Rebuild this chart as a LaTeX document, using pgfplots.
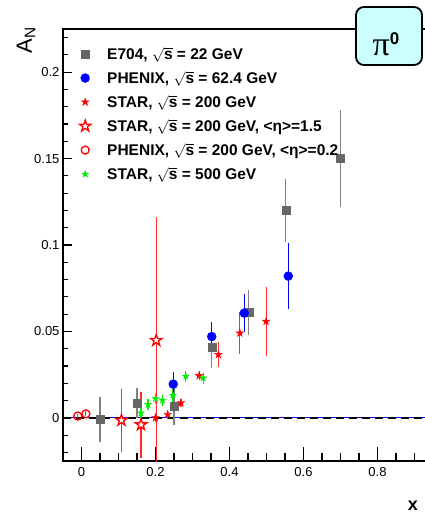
\documentclass[border=0pt]{standalone}
\usepackage{fontspec}
\setmainfont{Liberation Sans}
\newfontfamily\symserif{Liberation Serif}
\usepackage{amsmath}
\usepackage{pgfplots}
\pgfplotsset{compat=1.18}
\definecolor{egrey}{HTML}{666666}
\definecolor{ebar}{HTML}{808080}
\definecolor{pblue}{HTML}{0000FF}
\definecolor{sred}{HTML}{FF0000}
\definecolor{sredbar}{HTML}{FF2A2A}
\definecolor{sgreen}{HTML}{00EE00}
\definecolor{boxcyan}{HTML}{CCFFFF}

\pgfdeclareplotmark{pent}{%
  \pgfpathmoveto{\pgfpointpolar{90}{\pgfplotmarksize}}%
  \pgfpathlineto{\pgfpointpolar{126}{0.382\pgfplotmarksize}}%
  \pgfpathlineto{\pgfpointpolar{162}{\pgfplotmarksize}}%
  \pgfpathlineto{\pgfpointpolar{198}{0.382\pgfplotmarksize}}%
  \pgfpathlineto{\pgfpointpolar{234}{\pgfplotmarksize}}%
  \pgfpathlineto{\pgfpointpolar{270}{0.382\pgfplotmarksize}}%
  \pgfpathlineto{\pgfpointpolar{306}{\pgfplotmarksize}}%
  \pgfpathlineto{\pgfpointpolar{342}{0.382\pgfplotmarksize}}%
  \pgfpathlineto{\pgfpointpolar{18}{\pgfplotmarksize}}%
  \pgfpathlineto{\pgfpointpolar{54}{0.382\pgfplotmarksize}}%
  \pgfpathclose
  \pgfusepathqfillstroke
}

\pgfplotstableread{
x y ey
0.050 -0.001 0.012
0.150 0.0087 0.0075
0.250 0.0070 0.010
0.352 0.0410 0.011
0.452 0.0610 0.012
0.552 0.1200 0.017
0.700 0.1500 0.027
}\eseven

\pgfplotstableread{
x y ey
0.248 0.0195 0.006
0.352 0.0470 0.007
0.440 0.0606 0.010
0.559 0.0820 0.018
}\phenixsixty

\pgfplotstableread{
x y ey
0.200 0.0000 0.0015
0.233 0.0019 0.0012
0.269 0.0087 0.0012
0.318 0.0244 0.0015
0.370 0.0366 0.006
0.428 0.0490 0.011
0.499 0.0558 0.019
}\startwo

\pgfplotstableread{
x y ey
0.108 -0.0014 0.017
0.161 -0.0040 0.018
0.202 0.0448 0.070
}\stareta

\pgfplotstableread{
x y ey
-0.010 0.0010 0.0008
0.012 0.0023 0.0008
}\phenixtwo

\pgfplotstableread{
x y ey
0.161 0.0028 0.002
0.180 0.0077 0.002
0.200 0.0110 0.002
0.219 0.0102 0.002
0.247 0.0130 0.0025
0.282 0.0240 0.002
0.329 0.0230 0.002
}\starfive

\pgfplotstableread{
x y
-0.05 0
0.942 0
}\zeroline

\begin{document}
\begin{tikzpicture}
\path[use as bounding box] (0pt,0pt) rectangle (424pt,523pt);
\begin{axis}[
  name=ax,
  at={(63pt,62pt)}, anchor=south west,
  scale only axis, width=367pt, height=432pt,
  xmin=-0.05, xmax=0.942, ymin=-0.025, ymax=0.225,
  xtick={0,0.2,0.4,0.6,0.8}, xticklabels={0,0.2,0.4,0.6,0.8},
  ytick={0,0.05,0.1,0.15,0.2}, yticklabels={0,0.05,0.1,0.15,0.2},
  tick pos=left,
  tick align=inside,
  major tick length=0pt, minor tick length=0pt,
  axis line style={line width=1.5pt},
  tick label style={font=\fontsize{13}{13}\selectfont},
  xticklabel style={yshift=-3pt},
  legend style={at={(rel axis cs:0.03,0.968)}, anchor=north west, draw=none, fill=none,
    font=\fontsize{15.5}{16}\selectfont\bfseries, row sep=6pt},
  legend cell align=left,
  legend image code/.code={\path[draw=none,fill=none] (0pt,-2pt) rectangle (28pt,2pt); \draw[#1] plot coordinates {(8pt,0pt)};},
]
\addplot[pblue, line width=1.2pt, forget plot] table[x=x,y=y] {\zeroline};
\addplot[black, line width=2pt, dash pattern=on 8pt off 5pt, forget plot] table[x=x,y=y] {\zeroline};

\addplot[only marks, mark=square*, mark size=4pt, color=egrey,
  error bars/.cd, y dir=both, y explicit,
  error bar style={line width=1.2pt, ebar},
  error mark options={mark size=2pt, line width=1.2pt, ebar}]
  table[x=x, y=y, y error=ey] {\eseven};
\addlegendentry{E704, $\sqrt{\text{s}}$ = 22 GeV}

\addplot[only marks, mark=*, mark size=4.5pt, color=pblue,
  error bars/.cd, y dir=both, y explicit,
  error bar style={line width=1.2pt, pblue},
  error mark options={mark size=2pt, line width=1.2pt, pblue}]
  table[x=x, y=y, y error=ey] {\phenixsixty};
\addlegendentry{PHENIX, $\sqrt{\text{s}}$ = 62.4 GeV}

\addplot[only marks, mark=pent, mark size=4pt, color=sred, mark options={line width=0.4pt},
  error bars/.cd, y dir=both, y explicit,
  error bar style={line width=1.2pt, sredbar},
  error mark options={mark size=2pt, line width=1.2pt, sredbar}]
  table[x=x, y=y, y error=ey] {\startwo};
\addlegendentry{STAR, $\sqrt{\text{s}}$ = 200 GeV}

\addplot[only marks, mark=pent, mark size=6pt, color=sred,
  mark options={fill=white, line width=1.3pt},
  error bars/.cd, y dir=both, y explicit,
  error bar style={line width=1.2pt, sredbar},
  error mark options={mark size=2pt, line width=1.2pt, sredbar}]
  table[x=x, y=y, y error=ey] {\stareta};
\addlegendentry{STAR, $\sqrt{\text{s}}$ = 200 GeV, <η>=1.5}

\addplot[only marks, mark=o, mark size=4pt, color=sred, mark options={line width=1.3pt},
  error bars/.cd, y dir=both, y explicit,
  error bar style={line width=1pt, sredbar},
  error mark options={mark size=1pt, line width=1pt, sredbar}]
  table[x=x, y=y, y error=ey] {\phenixtwo};
\addlegendentry{PHENIX, $\sqrt{\text{s}}$ = 200 GeV, <η>=0.2}

\addplot[only marks, mark=pent, mark size=3.6pt, color=sgreen, mark options={line width=0.4pt},
  error bars/.cd, y dir=both, y explicit,
  error bar style={line width=1.2pt, sgreen},
  error mark options={mark size=2pt, line width=1.2pt, sgreen}]
  table[x=x, y=y, y error=ey] {\starfive};
\addlegendentry{STAR, $\sqrt{\text{s}}$ = 500 GeV}

% axis tick marks (frame decoration)
\pgfplotsinvokeforeach{0,0.2,0.4,0.6,0.8}{
  \draw[black, line width=1.3pt] (axis cs:#1,-0.025) -- ([yshift=14pt]axis cs:#1,-0.025);
}
\pgfplotsinvokeforeach{0.05,0.1,0.15,0.25,0.3,0.35,0.45,0.5,0.55,0.65,0.7,0.75,0.85,0.9}{
  \draw[black, line width=1.1pt] (axis cs:#1,-0.025) -- ([yshift=8pt]axis cs:#1,-0.025);
}
\pgfplotsinvokeforeach{0,0.05,0.1,0.15,0.2}{
  \draw[black, line width=1.3pt] (axis cs:-0.05,#1) -- ([xshift=9pt]axis cs:-0.05,#1);
}
\pgfplotsinvokeforeach{-0.02,-0.01,0.01,0.02,0.03,0.04,0.06,0.07,0.08,0.09,0.11,0.12,0.13,0.14,0.16,0.17,0.18,0.19,0.21,0.22}{
  \draw[black, line width=1.1pt] (axis cs:-0.05,#1) -- ([xshift=5pt]axis cs:-0.05,#1);
}
\end{axis}

\node[rotate=90, inner sep=0pt] at (26pt,482.5pt) {\fontsize{22}{22}\selectfont A\textsubscript{N}};
\node[inner sep=0pt] at (413pt,17pt) {\fontsize{18}{18}\selectfont\bfseries x};
\node[draw, line width=1.8pt, rounded corners=8pt, fill=boxcyan, minimum width=66pt, minimum height=58pt, inner sep=0pt] at (389pt,487pt) {};
\node[inner sep=0pt] at (386pt,479pt) {{\symserif\fontsize{34}{34}\selectfont π}\raisebox{11pt}{\fontsize{17}{17}\selectfont\bfseries 0}};
\end{tikzpicture}
\end{document}
